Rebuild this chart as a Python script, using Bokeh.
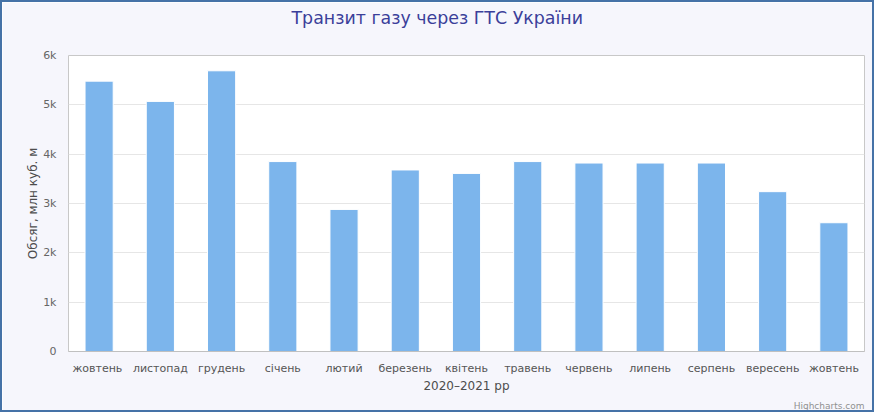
from bokeh.plotting import figure
from bokeh.models import ColumnDataSource, FixedTicker, Title, Range1d
from bokeh.embed import file_html
from bokeh.resources import INLINE

months = ["жовтень ", "листопад", "грудень", "січень", "лютий", "березень", "квітень",
          "травень", "червень", "липень", "серпень", "вересень", "жовтень"]
volumes = [5480, 5070, 5690, 3850, 2880, 3680, 3610, 3850, 3820, 3820, 3820, 3240, 2610]
y_ticks = [0, 1000, 2000, 3000, 4000, 5000, 6000]
y_tick_labels = ["0", "1k", "2k", "3k", "4k", "5k", "6k"]

source = ColumnDataSource(dict(month=months, volume=volumes))

FONT = "DejaVu Sans"

# the 2px CSS border shifts the canvas by 2px (border-box); margins account for it
p = figure(x_range=months, y_range=Range1d(0, 6000), width=874, height=412,
           output_backend="svg", toolbar_location=None,
           min_border_left=66, min_border_right=12, min_border_top=52, min_border_bottom=63)

p.vbar(x="month", top="volume", width=0.46, source=source,
       fill_color="#7CB5EC", line_color="white", line_width=1)

p.background_fill_color = "white"
p.border_fill_color = "#F6F6FC"
p.outline_line_color = "#C8C8C8"
p.outline_line_width = 1
p.styles = {"border": "2px solid #4572A7", "box-sizing": "border-box"}

p.title.text = "Транзит газу через ГТС України"
p.title.align = "left"
p.title.offset = 223
p.title.vertical_align = "top"
p.title.standoff = 10
p.title.padding = dict(top=0, right=0, bottom=21, left=0)
p.title.text_font = FONT
p.title.text_font_size = "17.4px"
p.title.text_font_style = "normal"
p.title.text_color = "#3B3F9A"

# y axis
p.yaxis.ticker = FixedTicker(ticks=y_ticks)
p.yaxis.major_label_overrides = {t: l for t, l in zip(y_ticks, y_tick_labels)}
p.yaxis.axis_label = "Обсяг, млн куб. м"
p.yaxis.axis_label_text_font = FONT
p.yaxis.axis_label_text_font_size = "12px"
p.yaxis.axis_label_text_font_style = "normal"
p.yaxis.axis_label_text_color = "#4D4D4D"
p.yaxis.axis_label_standoff = 0
p.yaxis.major_label_text_font = FONT
p.yaxis.major_label_text_font_size = "11px"
p.yaxis.major_label_text_color = "#666666"
p.yaxis.major_label_standoff = 12
p.yaxis.axis_line_color = None
p.yaxis.major_tick_line_color = None
p.yaxis.major_tick_out = 0
p.yaxis.major_tick_in = 0
p.yaxis.minor_tick_line_color = None

# x axis
p.xaxis.axis_label = "2020–2021 рр"
p.xaxis.axis_label_text_font = FONT
p.xaxis.axis_label_text_font_size = "12px"
p.xaxis.axis_label_text_font_style = "normal"
p.xaxis.axis_label_text_color = "#4D4D4D"
p.xaxis.axis_label_standoff = 1
p.xaxis.major_label_text_font = FONT
p.xaxis.major_label_text_font_size = "11px"
p.xaxis.major_label_text_color = "#555555"
p.xaxis.major_label_standoff = 10
p.xaxis.axis_line_color = "#C0C0C0"
p.xaxis.major_tick_line_color = None
p.xaxis.major_tick_out = 0
p.xaxis.major_tick_in = 0
p.xaxis.minor_tick_line_color = None

p.xgrid.grid_line_color = None
p.ygrid.grid_line_color = "#E6E6E6"
p.ygrid.grid_line_width = 1

credit = Title(text="Highcharts.com", align="right", vertical_align="bottom", standoff=0,
               padding=dict(top=3, right=0, bottom=0, left=0),
               text_font=FONT, text_font_size="9px", text_font_style="normal",
               text_color="#909090")
p.add_layout(credit, "below")

open("out.html", "w").write(file_html(p, INLINE))
